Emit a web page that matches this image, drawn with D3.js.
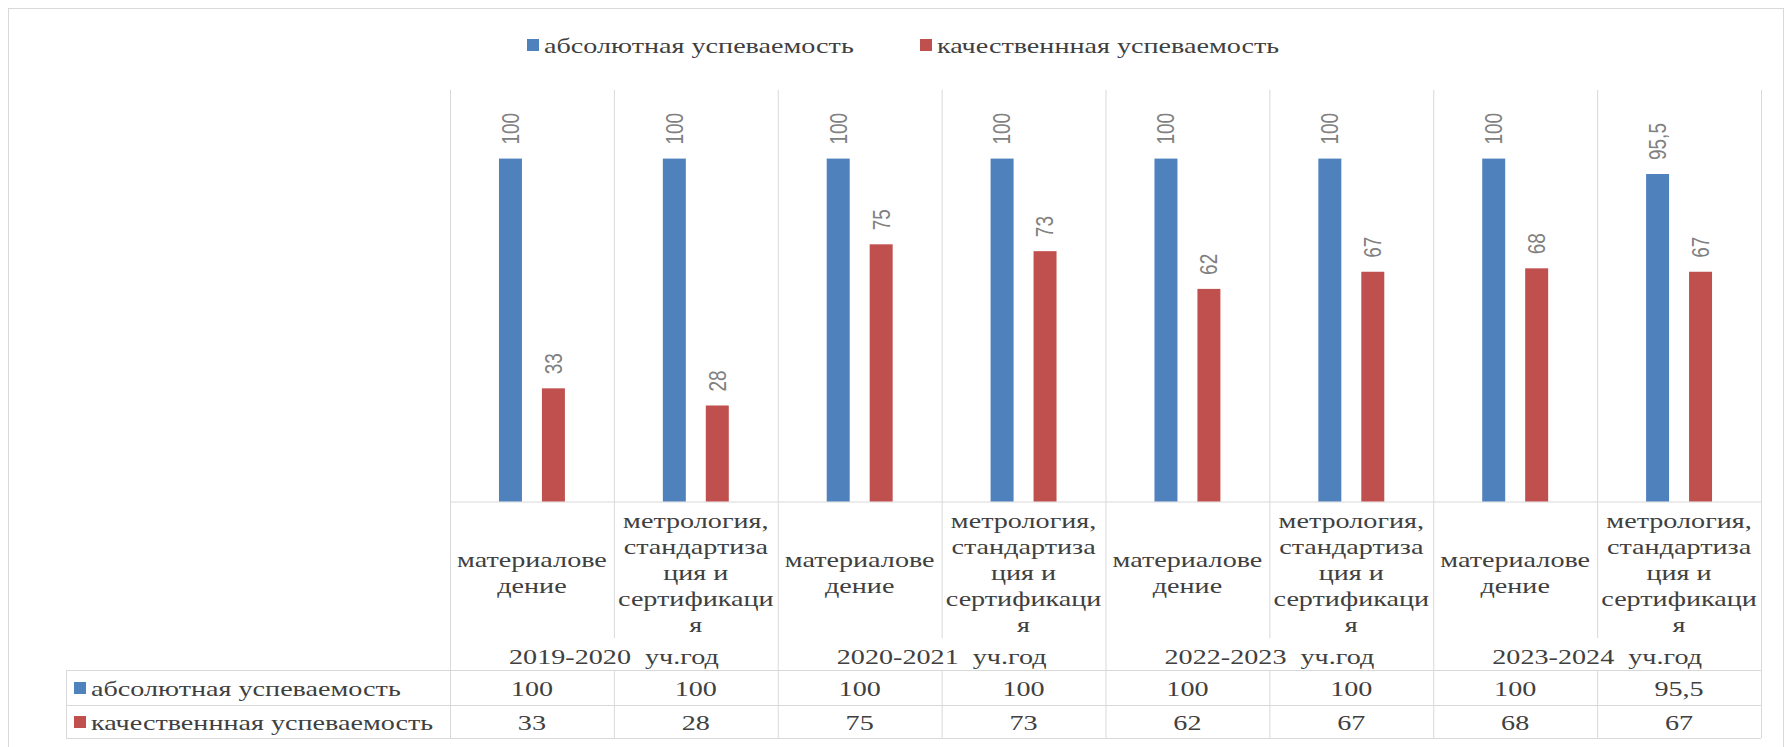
<!DOCTYPE html>
<html>
<head>
<meta charset="utf-8">
<script src="https://cdn.jsdelivr.net/npm/d3@7"></script>
<style>
  body { margin: 0; background: #fff; }
  text { white-space: pre; }
</style>
</head>
<body>
<svg id="chart"></svg>
<script>
// данные
var series = ["абсолютная успеваемость", "качественнная успеваемость"];
var years = ["2019-2020  уч.год", "2020-2021  уч.год", "2022-2023  уч.год", "2023-2024  уч.год"];
var subjects = [["материалове", "дение"], ["метрология,", "стандартиза", "ция и", "сертификаци", "я"]];
var absolut = [100, 100, 100, 100, 100, 100, 100, 95.5];
var kachestvo = [33, 28, 75, 73, 62, 67, 68, 67];
var yTicks = [0, 120];

var colors = ["#4F81BD", "#C0504D"];
var W = 1785, H = 747;
var SX = 1.28; // текст в оригинале растянут по горизонтали
var serif = "'Liberation Serif', 'Times New Roman', serif";

var cats = d3.range(absolut.length);
var vals = [absolut, kachestvo];

var svg = d3.select("#chart").attr("width", W).attr("height", H);

// рамка
svg.append("rect").attr("x", 8.5).attr("y", 8.5).attr("width", W - 10).attr("height", H - 8)
  .attr("fill", "none").attr("stroke", "#d9d9d9");

var plotL = 450, plotR = 1761, plotT = 90, base = 501.5;
var tableLeft = 66, tableTop = 670, rowMid = 705, tableBottom = 738;

var x = d3.scaleBand().domain(cats).range([plotL, plotR]);
var x1 = d3.scaleBand().domain([0, 1]).range([0, x.bandwidth()]).paddingInner(0.465).paddingOuter(1.14);
var y = d3.scaleLinear().domain(d3.extent(yTicks)).range([base, plotT]);

function stretched(g, px, py, str, anchor, size, color) {
  return g.append("text")
    .attr("transform", "translate(" + px + "," + py + ") scale(" + SX + ",1)")
    .attr("text-anchor", anchor || "middle")
    .attr("dominant-baseline", "central")
    .style("font-family", serif)
    .style("font-size", (size || 22) + "px")
    .attr("fill", color || "#404040")
    .text(str);
}

var grid = svg.append("g").attr("stroke", "#d9d9d9").attr("stroke-width", 1);
// вертикальные линии
cats.concat([cats.length]).forEach(function (i) {
  var xx = (i < cats.length ? x(i) : plotR) + 0.5;
  var groupEdge = (i % 2 === 0);
  grid.append("line").attr("x1", xx).attr("x2", xx).attr("y1", plotT)
    .attr("y2", groupEdge ? tableBottom : 638);
  if (!groupEdge) {
    grid.append("line").attr("x1", xx).attr("x2", xx).attr("y1", tableTop).attr("y2", tableBottom);
  }
});
// таблица
[tableTop, rowMid, tableBottom].forEach(function (yy) {
  grid.append("line").attr("x1", tableLeft).attr("x2", plotR).attr("y1", yy + 0.5).attr("y2", yy + 0.5);
});
grid.append("line").attr("x1", tableLeft + 0.5).attr("x2", tableLeft + 0.5).attr("y1", tableTop).attr("y2", tableBottom);

// ось
var axis = svg.append("g").attr("transform", "translate(0," + base + ")")
  .call(d3.axisBottom(x).tickSize(0).tickFormat(""));
axis.select(".domain").attr("stroke", "#d9d9d9");

// столбцы
var groups = svg.selectAll(".cat").data(cats).enter().append("g")
  .attr("transform", function (d) { return "translate(" + x(d) + ",0)"; });

groups.selectAll("rect").data(function (d) { return [0, 1].map(function (s) { return { s: s, v: vals[s][d] }; }); })
  .enter().append("rect")
  .attr("x", function (d) { return x1(d.s); })
  .attr("width", x1.bandwidth())
  .attr("y", function (d) { return y(d.v); })
  .attr("height", function (d) { return base - y(d.v); })
  .attr("fill", function (d) { return colors[d.s]; });

// подписи данных
groups.selectAll("text.lbl").data(function (d) { return [0, 1].map(function (s) { return { s: s, v: vals[s][d] }; }); })
  .enter().append("text").attr("class", "lbl")
  .attr("transform", function (d) {
    return "translate(" + (x1(d.s) + x1.bandwidth() / 2) + "," + (y(d.v) - 14) + ") scale(" + SX + ",1) rotate(-90)";
  })
  .attr("text-anchor", "start")
  .attr("dominant-baseline", "central")
  .style("font-family", "'Liberation Sans', Arial, sans-serif")
  .style("font-size", "19px")
  .attr("fill", "#808080")
  .text(function (d) { return String(d.v).replace(".", ","); });

// подписи категорий
cats.forEach(function (i) {
  var lines = subjects[i % 2];
  var cx = x(i) + x.bandwidth() / 2;
  var y0 = 572 - (lines.length - 1) * 26 / 2;
  lines.forEach(function (l, k) { stretched(svg, cx, y0 + k * 26, l); });
});
years.forEach(function (yr, j) {
  stretched(svg, x(j * 2 + 1), 656, yr);
});

// таблица данных
var rowY = [688, 722];
series.forEach(function (name, s) {
  svg.append("rect").attr("x", 74).attr("y", rowY[s] - 6).attr("width", 12).attr("height", 12).attr("fill", colors[s]);
  stretched(svg, 91, rowY[s], name, "start");
  cats.forEach(function (i) {
    stretched(svg, x(i) + x.bandwidth() / 2, rowY[s], String(vals[s][i]).replace(".", ","));
  });
});

// легенда
var legX = [527, 920];
series.forEach(function (name, s) {
  svg.append("rect").attr("x", legX[s]).attr("y", 39).attr("width", 12).attr("height", 12).attr("fill", colors[s]);
  stretched(svg, legX[s] + 17, 45, name, "start");
});
</script>
</body>
</html>
